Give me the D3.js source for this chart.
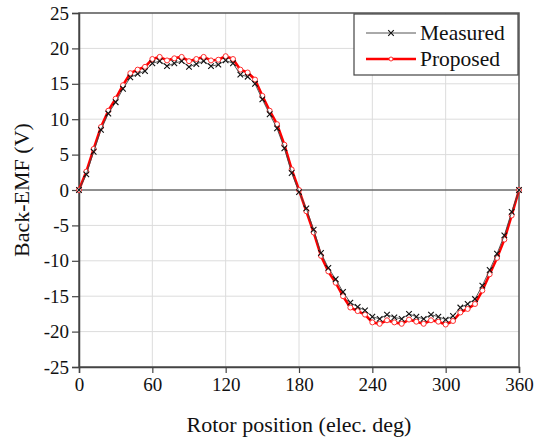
<!DOCTYPE html>
<html>
<head>
<meta charset="utf-8">
<script src="https://cdn.jsdelivr.net/npm/d3@7"></script>
<style>
  body { margin: 0; background: #fff; }
  text { font-family: "Liberation Serif", "Times New Roman", serif; fill: #111; }
</style>
</head>
<body>
<script>
// rotor position, every 6 elec. deg
const angles = d3.range(0, 361, 6);

// back-EMF values (V)
const measured = [
  0, 2.2, 5.4, 8.5, 10.8, 12.4, 14.3, 15.9, 16.4, 16.8,
  17.9, 18.2, 17.5, 17.9, 18.2, 17.4, 17.8, 18.2, 17.5, 17.7,
  18.3, 17.9, 16.3, 16.0, 15.0, 12.8, 10.7, 8.7, 5.9, 2.4,
  -0.3, -2.6, -5.6, -8.9, -11.0, -12.6, -14.4, -15.9, -16.5, -17.0,
  -17.9, -18.2, -17.6, -18.0, -18.2, -17.5, -17.9, -18.2, -17.6, -17.9,
  -18.3, -17.8, -16.6, -16.1, -15.4, -13.5, -11.3, -9.0, -6.4, -3.1,
  0
];
const proposed = [
  0, 2.6, 5.8, 8.9, 11.2, 12.9, 14.8, 16.5, 17.0, 17.4,
  18.5, 18.8, 18.3, 18.6, 18.8, 18.2, 18.5, 18.8, 18.3, 18.4,
  18.9, 18.5, 17.0, 16.6, 15.6, 13.3, 11.2, 9.3, 6.4, 2.9,
  0, -3.0, -6.0, -9.3, -11.5, -13.1, -15.0, -16.6, -17.1, -17.6,
  -18.7, -18.9, -18.4, -18.7, -18.9, -18.3, -18.6, -18.9, -18.4, -18.6,
  -19.0, -18.5, -17.3, -16.8, -16.1, -14.2, -11.9, -9.6, -7.0, -3.6,
  0
];

const xTicks = [0, 60, 120, 180, 240, 300, 360];
const yTicks = d3.range(-25, 26, 5);
const seriesNames = ["Measured", "Proposed"];

const width = 547, height = 440;
const margin = { top: 13, right: 28, bottom: 73, left: 79 };

const svg = d3.select("body")
  .append("svg")
  .attr("width", width)
  .attr("height", height);

const x = d3.scaleLinear().domain([0, 360]).range([margin.left, width - margin.right]);
const y = d3.scaleLinear().domain([-25, 25]).range([height - margin.bottom, margin.top]);

// grid
svg.append("g")
  .selectAll("line")
  .data(xTicks.slice(1, -1))
  .join("line")
  .attr("x1", d => x(d)).attr("x2", d => x(d))
  .attr("y1", y(25)).attr("y2", y(-25))
  .attr("stroke", "#dcdcdc").attr("stroke-width", 1);

svg.append("g")
  .selectAll("line")
  .data(yTicks.slice(1, -1))
  .join("line")
  .attr("x1", x(0)).attr("x2", x(360))
  .attr("y1", d => y(d)).attr("y2", d => y(d))
  .attr("stroke", "#dcdcdc").attr("stroke-width", 1);

// zero line
svg.append("line")
  .attr("x1", x(0)).attr("x2", x(360))
  .attr("y1", y(0)).attr("y2", y(0))
  .attr("stroke", "#333").attr("stroke-width", 1.2);

// frame
svg.append("rect")
  .attr("x", x(0)).attr("y", y(25))
  .attr("width", x(360) - x(0)).attr("height", y(-25) - y(25))
  .attr("fill", "none").attr("stroke", "#555").attr("stroke-width", 1.5);

// axes
const xAxis = svg.append("g")
  .attr("transform", `translate(0,${y(-25)})`)
  .call(d3.axisBottom(x).tickValues(xTicks).tickSize(6).tickPadding(5)
    .tickFormat(d => String(d)));
const yAxis = svg.append("g")
  .attr("transform", `translate(${x(0)},0)`)
  .call(d3.axisLeft(y).tickValues(yTicks).tickSize(7).tickPadding(3)
    .tickFormat(d => String(d)));

[xAxis, yAxis].forEach(g => {
  g.select(".domain").attr("stroke", "#444").attr("stroke-width", 1.5);
  g.selectAll(".tick line").attr("stroke", "#444").attr("stroke-width", 1.2);
  g.selectAll(".tick text")
    .attr("font-size", 19)
    .attr("fill", "#111");
});

// data lines
const line = d3.line()
  .x((d, i) => x(angles[i]))
  .y(d => y(d));

svg.append("path")
  .datum(proposed)
  .attr("d", line)
  .attr("fill", "none")
  .attr("stroke", "#ff0000")
  .attr("stroke-width", 2.6)
  .attr("stroke-linejoin", "round");

svg.append("g")
  .selectAll("circle")
  .data(proposed)
  .join("circle")
  .attr("cx", (d, i) => x(angles[i]))
  .attr("cy", d => y(d))
  .attr("r", 2.5)
  .attr("fill", "#fff")
  .attr("stroke", "#ff3030")
  .attr("stroke-width", 1);

svg.append("path")
  .datum(measured)
  .attr("d", line)
  .attr("fill", "none")
  .attr("stroke", "#444")
  .attr("stroke-width", 0.9);

const cross = d3.symbol().type(d3.symbolX).size(22);
svg.append("g")
  .selectAll("path")
  .data(measured)
  .join("path")
  .attr("transform", (d, i) => `translate(${x(angles[i])},${y(d)})`)
  .attr("d", cross)
  .attr("fill", "none")
  .attr("stroke", "#111")
  .attr("stroke-width", 1.1);

// legend
const legend = svg.append("g");
legend.append("rect")
  .attr("x", 354).attr("y", 14)
  .attr("width", 164).attr("height", 61)
  .attr("fill", "#fff")
  .attr("stroke", "#444")
  .attr("stroke-width", 1.2);

const items = legend.selectAll("g.item")
  .data(seriesNames)
  .join("g")
  .attr("class", "item")
  .attr("transform", (d, i) => `translate(366,${33 + i * 26})`);

items.append("line")
  .attr("x1", 0).attr("x2", 50)
  .attr("stroke", (d, i) => i === 0 ? "#555" : "#ff0000")
  .attr("stroke-width", (d, i) => i === 0 ? 1 : 2.6);

items.filter((d, i) => i === 0).append("path")
  .attr("transform", "translate(25,0)")
  .attr("d", cross)
  .attr("stroke", "#111").attr("stroke-width", 1.1);

items.filter((d, i) => i === 1).append("circle")
  .attr("cx", 25).attr("r", 2)
  .attr("fill", "#fff").attr("stroke", "#ff3030");

items.append("text")
  .attr("x", 54).attr("dy", "0.33em")
  .attr("font-size", 21.5)
  .text(d => d);

// axis titles
svg.append("text")
  .attr("x", x(180)).attr("y", 432)
  .attr("text-anchor", "middle")
  .attr("font-size", 22)
  .text("Rotor position (elec. deg)");

svg.append("text")
  .attr("transform", `translate(29,${y(0)}) rotate(-90)`)
  .attr("text-anchor", "middle")
  .attr("font-size", 22)
  .text("Back-EMF (V)");
</script>
</body>
</html>
